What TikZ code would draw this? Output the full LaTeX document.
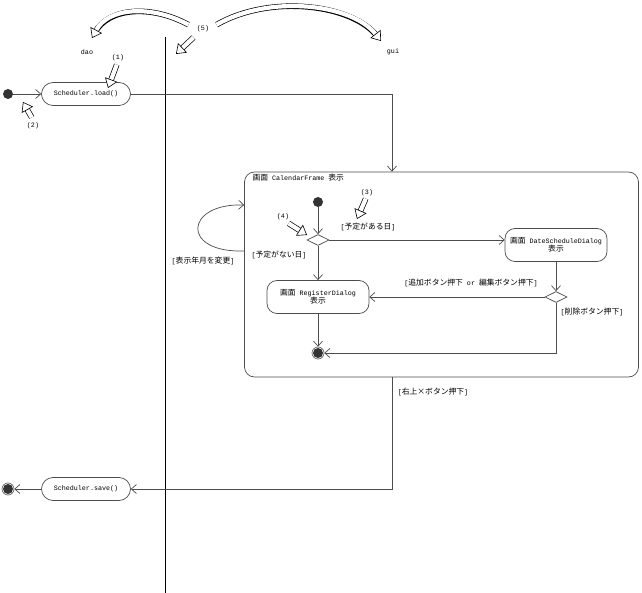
\documentclass[tikz,border=0pt]{standalone}
\usepackage{fontspec}
\setmainfont{Liberation Mono}
\newfontfamily\jpfont{Noto Sans CJK JP}
\newcommand\jp[1]{{\jpfont\fontsize{7.8}{9}\selectfont #1}}
\usetikzlibrary{arrows.meta,shapes.geometric,shapes.misc}
\tikzset{
  flow/.style={draw=black!70, line width=0.7pt, -{Straight Barb[length=5pt,width=9pt]}},
  action/.style={draw=black!70, line width=0.7pt, rounded rectangle, minimum width=91pt, minimum height=23pt, inner sep=1pt},
  screen/.style={draw=black!70, line width=0.7pt, rounded corners=10pt, minimum width=102pt, minimum height=33pt, align=center, inner sep=1pt},
  choice/.style={draw=black!70, line width=0.7pt, diamond, minimum width=22pt, minimum height=11pt, inner sep=0pt},
  start/.style={circle, fill=black!80, minimum size=10pt, inner sep=0pt},
  stop/.style={circle, draw=black!60, line width=0.7pt, minimum size=12pt, inner sep=0pt,
    path picture={\fill[black!80] (path picture bounding box.center) circle (5pt);}},
  hollow/.style={draw=white, line width=4.2pt, shorten <=0.7pt,
    -{Triangle[length=9pt,width=13pt,color=black,fill=white,line width=0.6pt]},
    preaction={draw=black, line width=5.6pt, -, shorten >=6pt}}
}
\begin{document}
\begin{tikzpicture}[x=1pt,y=-1pt,font=\fontsize{6.7}{8}\selectfont]
\useasboundingbox (0,0) rectangle (642,593);

% swimlanes
\draw[line width=0.8pt] (165,37) -- (165,593);
\node (dao) at (87,52) {dao};
\node (gui) at (393,52) {gui};

% dao side
\node[start] (init) at (8,94) {};
\node[action] (load) at (86,94) {Scheduler.load()};
\node[action] (save) at (86,489) {Scheduler.save()};
\node[stop] (fin) at (8,489) {};

% gui side
\node[draw=black!70, line width=0.7pt, rounded corners=10pt, minimum width=394pt, minimum height=205pt] (calframe) at (441.5,274.5) {};
\node[anchor=west] (framelabel) at (249,178) {\jp{画面} CalendarFrame \jp{表示}};
\node[start] (init2) at (318,202) {};
\node[choice] (dec1) at (318,240) {};
\node[screen] (dateDlg) at (556,245) {\jp{画面} DateScheduleDialog\\\jp{表示}};
\node[screen] (regDlg) at (318,297) {\jp{画面} RegisterDialog\\\jp{表示}};
\node[choice] (dec2) at (556,297) {};
\node[stop] (fin2) at (318,353) {};

% guards
\node (gHas) at (368,227) {[\jp{予定がある日}]};
\node (gNone) at (279,255) {[\jp{予定がない日}]};
\node (gEdit) at (471,283) {[\jp{追加ボタン押下} or \jp{編集ボタン押下}]};
\node (gDel) at (592,312) {[\jp{削除ボタン押下}]};
\node (gMonth) at (203,261) {[\jp{表示年月を変更}]};
\node (gClose) at (433,392) {[\jp{右上×ボタン押下}]};

% transitions
\draw[flow] (init) -- (load);
\draw[flow] (load) -| (calframe.north -| 392,0);
\draw[flow] (calframe.west |- 0,251) .. controls (180,253) and (185,203) .. (calframe.west |- 0,205);
\draw[flow] (init2) -- (dec1);
\draw[flow] (dec1) -- (dec1 -| dateDlg.west);
\draw[flow] (dec1) -- (regDlg);
\draw[flow] (dateDlg) -- (dec2);
\draw[flow] (dec2) -- (regDlg);
\draw[flow] (dec2) |- (fin2);
\draw[flow] (regDlg) -- (fin2);
\draw[flow] (calframe.south -| 392,0) |- (save);
\draw[flow] (save) -- (fin);

% notes
\node (n1) at (118,58) {(1)};
\node (n2) at (33,126) {(2)};
\node (n3) at (367,193) {(3)};
\node (n4) at (283,217) {(4)};
\node (n5) at (203,29) {(5)};
\coordinate (t1) at (117,64);
\coordinate (h1) at (108,88);
\coordinate (t2) at (32,118);
\coordinate (h2) at (23,102);
\coordinate (t3) at (366,198);
\coordinate (h3) at (357,219);
\coordinate (t4) at (288,223);
\coordinate (h4) at (307,235);
\coordinate (t5) at (194,37);
\coordinate (h5) at (176,54);
\draw[hollow] (t1) -- (h1);
\draw[hollow] (t2) -- (h2);
\draw[hollow] (t3) -- (h3);
\draw[hollow] (t4) -- (h4);
\draw[hollow] (t5) -- (h5);
\draw[hollow] (189,25) .. controls (150,4) and (108,8) .. (92,38);
\draw[hollow] (216,25) .. controls (270,-6) and (352,4) .. (381,41);
\end{tikzpicture}
\end{document}
